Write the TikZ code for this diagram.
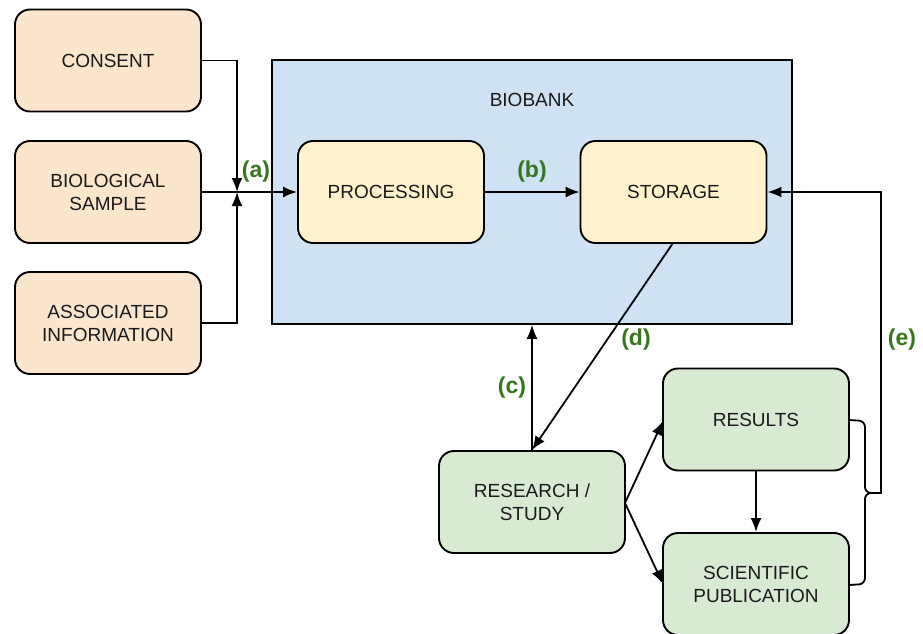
\documentclass[tikz,border=0pt]{standalone}
\usepackage{fontspec}
\setmainfont{Liberation Sans}
\usetikzlibrary{arrows.meta}

\definecolor{inputfill}{HTML}{FCE5CD}
\definecolor{bankfill}{HTML}{CFE2F3}
\definecolor{stepfill}{HTML}{FFF2CC}
\definecolor{outfill}{HTML}{D9EAD3}
\definecolor{tagcolor}{HTML}{38761D}
\definecolor{ink}{HTML}{1A1A1A}

\begin{document}
\begin{tikzpicture}[x=1pt,y=-1pt,
  box/.style={draw=black, line width=1.9pt, rounded corners=15pt,
    minimum width=186pt, minimum height=102pt, align=center, inner sep=0pt,
    text=ink, font=\fontsize{19}{23}\selectfont},
  inbox/.style={box, fill=inputfill},
  stepbox/.style={box, fill=stepfill},
  outbox/.style={box, fill=outfill},
  link/.style={line width=1.8pt, -{Latex[length=14pt,width=11pt]}},
  plain/.style={line width=1.8pt},
  tag/.style={font=\fontsize{23}{23}\selectfont\bfseries, text=tagcolor, inner sep=0pt}
]
\useasboundingbox (0,0) rectangle (923,634);

% biobank frame
\node[draw=black, line width=1.6pt, fill=bankfill, minimum width=520pt,
  minimum height=264pt, inner sep=0pt] (bank) at (532,192) {};
\node[text=ink, font=\fontsize{19}{23}\selectfont] (banklabel) at (532,100) {BIOBANK};

% inputs
\node[inbox] (consent) at (108,60.5) {CONSENT};
\node[inbox] (sample) at (108,192) {BIOLOGICAL\\SAMPLE};
\node[inbox] (info) at (108,323) {ASSOCIATED\\INFORMATION};

% biobank steps
\node[stepbox] (proc) at (391,192) {PROCESSING};
\node[stepbox] (store) at (673.5,192) {STORAGE};

% research side
\node[outbox] (research) at (532,502) {RESEARCH /\\STUDY};
\node[outbox] (results) at (756,419.5) {RESULTS};
\node[outbox] (pub) at (756,584) {SCIENTIFIC\\PUBLICATION};

% inputs merging into processing
\coordinate (join) at (237,192);
\draw[link] (consent.east) -| (join);
\draw[link] (info.east) -| (join);
\draw[link] (sample.east) -- (proc.west);
\node[tag] (ta) at (256,172) {(a)};

% processing to storage
\draw[link] (proc.east) -- (store.west);
\node[tag] (tb) at (532,172) {(b)};

% research requests samples, storage delivers
\draw[link] (research.north) -- (research.north |- bank.south);
\node[tag] (tc) at (512,388) {(c)};
\coordinate (storeout) at (673,243);
\draw[link] (storeout) -- (research.north);
\node[tag] (td) at (636,340) {(d)};

% research outputs
\coordinate (rsrc) at (625,503);
\draw[link] (rsrc) -- (663,421);
\draw[link] (rsrc) -- (663,584);
\draw[link] (results.south) -- (pub.north);

% brace grouping results and publication, feeding back to storage
\coordinate (tip) at (871,493);
\draw[plain, rounded corners=6pt] (849,420) -- (865,421) -- (865,493) -- (tip);
\draw[plain, rounded corners=6pt] (849,585) -- (865,584) -- (865,493) -- (tip);
\draw[link] (tip) -- (881,493) -- (881,192) -- (store.east);
\node[tag] (te) at (902,340) {(e)};
\end{tikzpicture}
\end{document}
